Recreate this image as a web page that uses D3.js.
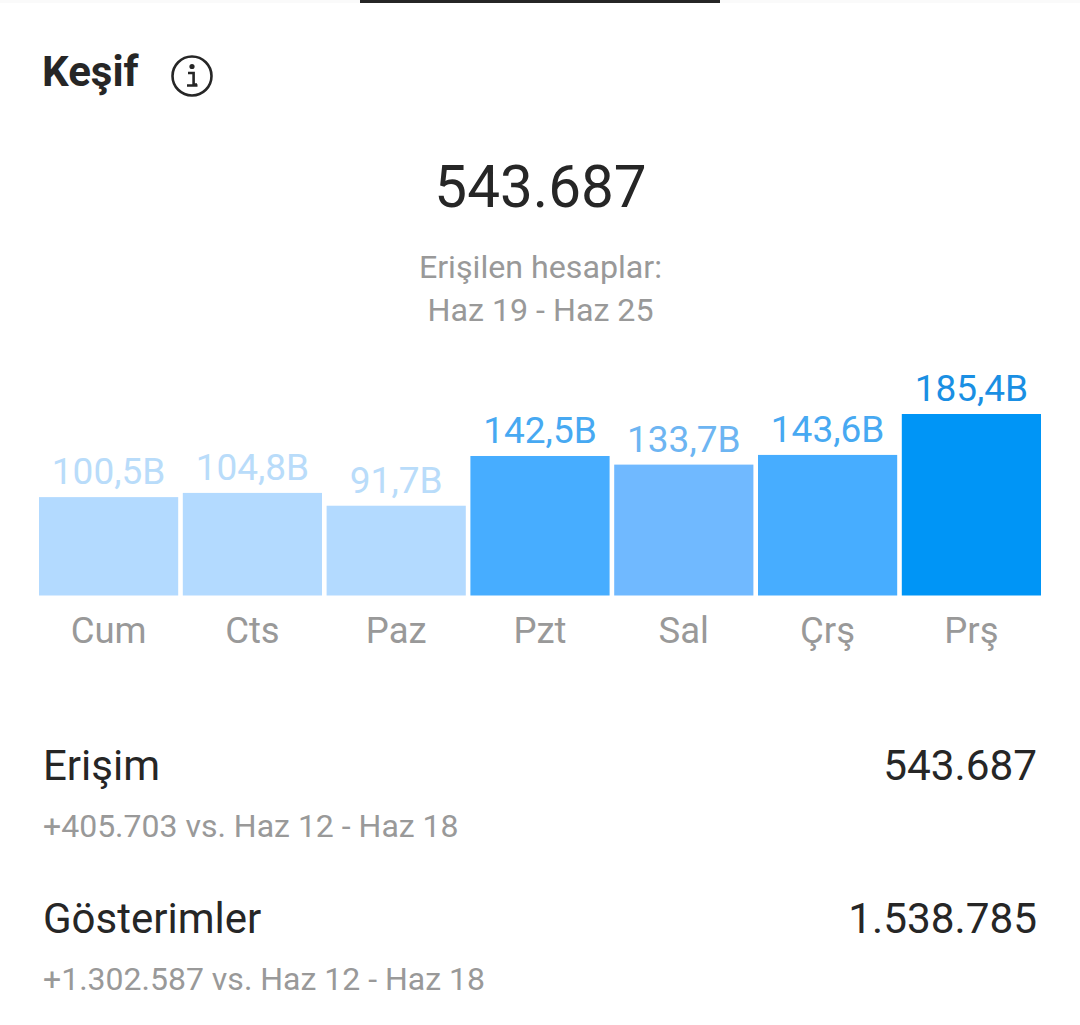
<!DOCTYPE html>
<html>
<head>
<meta charset="utf-8">
<script src="https://cdn.jsdelivr.net/npm/d3@7"></script>
<style>
  html, body { margin: 0; padding: 0; background: #fff; overflow: hidden; }
  text { font-family: Roboto, sans-serif; }
</style>
</head>
<body>
<div id="chart"></div>
<script>
// values (B = bin)
const days = ["Cum", "Cts", "Paz", "Pzt", "Sal", "Çrş", "Prş"];
const reach = [100.5, 104.8, 91.7, 142.5, 133.7, 143.6, 185.4];
const reachLabels = ["100,5B", "104,8B", "91,7B", "142,5B", "133,7B", "143,6B", "185,4B"];
const barColors = ["#b3daff", "#b3daff", "#b3daff", "#47adff", "#70b9ff", "#47adff", "#0095f6"];
const labelColors = ["#b9dcfa", "#b9dcfa", "#b9dcfa", "#47a9f2", "#6db5f2", "#47a9f2", "#1a8fe3"];

const subtitleLines = ["Erişilen hesaplar:", "Haz 19 - Haz 25"];
const rowNames = ["Erişim", "Gösterimler"];
const rowValues = ["543.687", "1.538.785"];
const rowNotes = ["+405.703 vs. Haz 12 - Haz 18", "+1.302.587 vs. Haz 12 - Haz 18"];

const width = 1080, height = 1025;
const dark = "#262626", grey = "#999999";

const svg = d3.select("#chart").append("svg")
    .attr("width", width)
    .attr("height", height)
    .style("display", "block");

// top strip + tab indicator
svg.append("rect").attr("width", width).attr("height", 3).attr("fill", "#fafafa");
svg.append("rect").attr("x", 360).attr("width", 360).attr("height", 3).attr("fill", dark);

// header
svg.append("text")
    .attr("x", 42).attr("y", 86)
    .attr("font-size", 42).attr("font-weight", 700)
    .attr("fill", dark)
    .text("Keşif");

const info = svg.append("g").attr("transform", "translate(192,76)");
info.append("circle").attr("r", 19.5).attr("fill", "none").attr("stroke", dark).attr("stroke-width", 2.6);
info.append("circle").attr("cy", -9.5).attr("r", 2.6).attr("fill", dark);
info.append("path")
    .attr("d", "M-4,-3H1.6V8.5H5M-5,9.5H5.5")
    .attr("fill", "none").attr("stroke", dark).attr("stroke-width", 2.6);

svg.append("text")
    .attr("x", 540.5).attr("y", 206.5)
    .attr("text-anchor", "middle")
    .attr("font-size", 58.4)
    .attr("fill", dark)
    .text(rowValues[0]);

svg.selectAll(".subtitle")
    .data(subtitleLines)
    .join("text")
    .attr("class", "subtitle")
    .attr("x", 540.5)
    .attr("y", (d, i) => 278 + i * 43)
    .attr("text-anchor", "middle")
    .attr("font-size", 32.2)
    .attr("fill", grey)
    .text(d => d);

// bars
const x = d3.scaleBand()
    .domain(days)
    .range([39, 1041])
    .paddingInner(0.032);

const y = d3.scaleLinear()
    .domain([0, 185.4])
    .range([595.5, 414]);

svg.selectAll(".bar")
    .data(days)
    .join("rect")
    .attr("class", "bar")
    .attr("x", d => x(d))
    .attr("width", x.bandwidth())
    .attr("y", (d, i) => y(reach[i]))
    .attr("height", (d, i) => y(0) - y(reach[i]))
    .attr("fill", (d, i) => barColors[i]);

svg.selectAll(".bar-label")
    .data(days)
    .join("text")
    .attr("class", "bar-label")
    .attr("x", d => x(d) + x.bandwidth() / 2)
    .attr("y", (d, i) => y(reach[i]) - 13)
    .attr("text-anchor", "middle")
    .attr("font-size", 37)
    .attr("fill", (d, i) => labelColors[i])
    .text((d, i) => reachLabels[i]);

// day labels through the axis
const xAxis = svg.append("g")
    .attr("transform", `translate(0,${y(0)})`)
    .call(d3.axisBottom(x).tickSize(0).tickPadding(22));
xAxis.select(".domain").remove();
xAxis.selectAll("text")
    .attr("font-size", 36.5)
    .attr("fill", grey)
    .style("font-family", "Roboto, sans-serif");

// rows under the chart
const rows = svg.selectAll(".row")
    .data(rowNames)
    .join("g")
    .attr("class", "row")
    .attr("transform", (d, i) => `translate(0,${i * 153})`);

rows.append("text")
    .attr("x", 43).attr("y", 780)
    .attr("font-size", 42)
    .attr("fill", dark)
    .text(d => d);

rows.append("text")
    .attr("x", 1037).attr("y", 780)
    .attr("text-anchor", "end")
    .attr("font-size", 42.3)
    .attr("fill", dark)
    .text((d, i) => rowValues[i]);

rows.append("text")
    .attr("x", 43).attr("y", 837)
    .attr("font-size", 32)
    .attr("fill", grey)
    .text((d, i) => rowNotes[i]);
</script>
</body>
</html>
